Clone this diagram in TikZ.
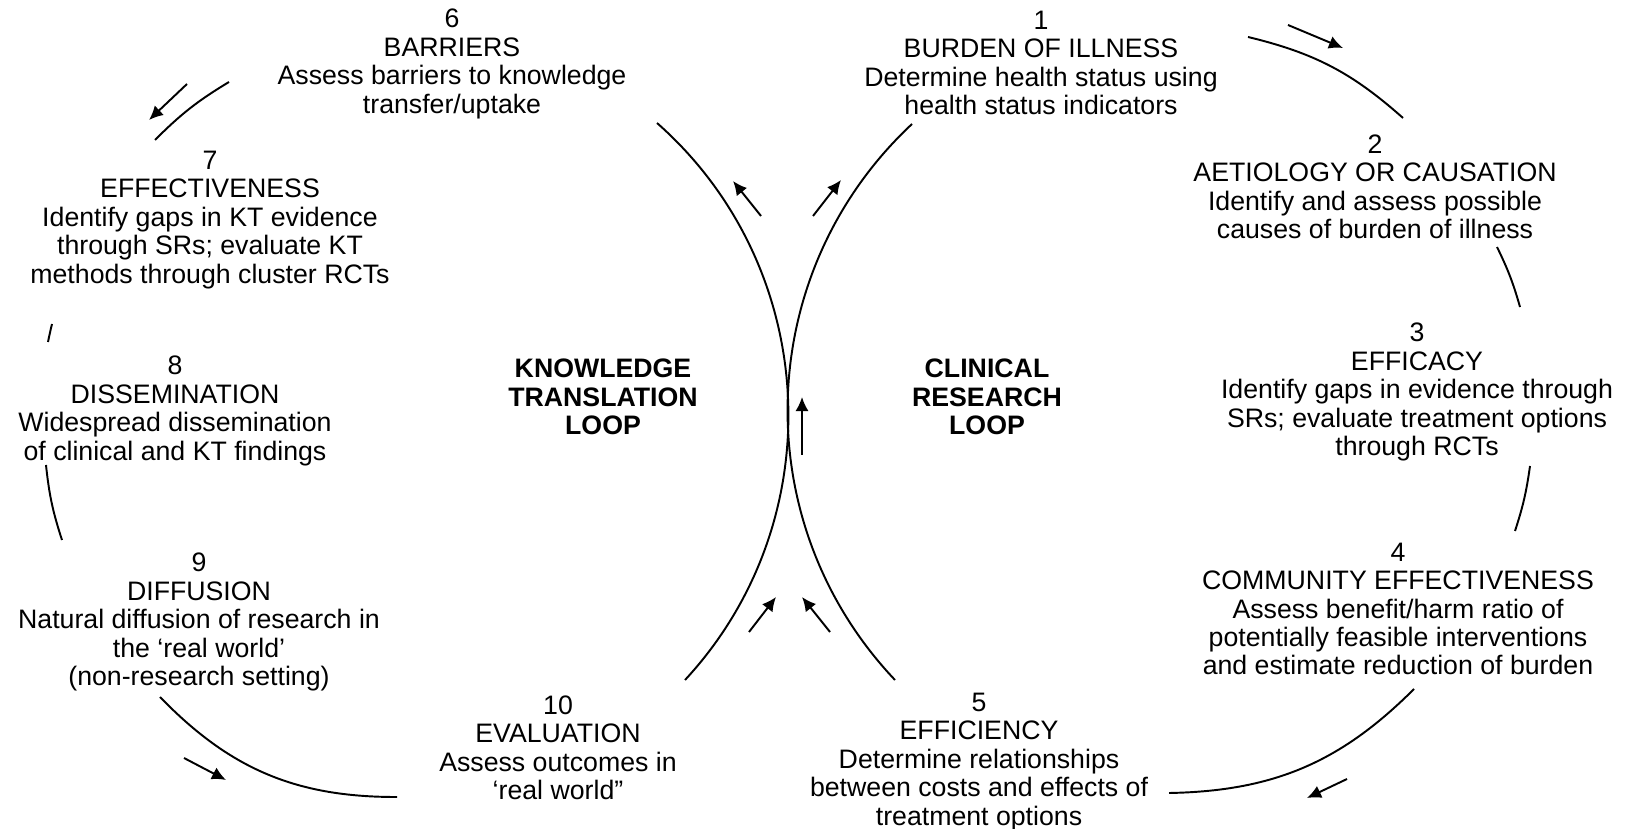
\documentclass[tikz,border=0pt]{standalone}
\usepackage{fontspec}
\setmainfont{Liberation Sans}
\usetikzlibrary{arrows.meta}
\newcommand{\loopArc}[4]{%%
  \coordinate (#1Start) at (#2);
  \coordinate (#1End) at (#3);
  \draw[arcStyle] (#1Start) to[#4] (#1End);
}
\newcommand{\flowArrow}[3]{%%
  \coordinate (#1Tail) at (#2);
  \coordinate (#1Head) at (#3);
  \draw[arrowStyle] (#1Tail) -- (#1Head);
}

\begin{document}
\begin{tikzpicture}[%%
  x=0.02cm,y=0.02cm,%%
  stageStyle/.style={align=center,inner sep=0pt,font=\fontsize{15.2}{16.2}\selectfont},%%
  loopStyle/.style={align=center,inner sep=0pt,font=\fontsize{15.2}{16.2}\selectfont\bfseries},%%
  arcStyle/.style={line width=1.1pt},%%
  arrowStyle/.style={line width=1.1pt,-{Latex[length=8pt,width=7.5pt]}}
]
\useasboundingbox (0,0) rectangle (1625,828);
%%
%% The stages of the clinical research loop.
\node[stageStyle] (burden) at (1041,765) {1\\BURDEN OF ILLNESS\\Determine health status using\\health status indicators};
\node[stageStyle] (aetiology) at (1375,641) {2\\AETIOLOGY OR CAUSATION\\Identify and assess possible\\causes of burden of illness};
\node[stageStyle] (efficacy) at (1417,436) {3\\EFFICACY\\Identify gaps in evidence through\\SRs; evaluate treatment options\\through RCTs};
\node[stageStyle] (community) at (1398,219) {4\\COMMUNITY EFFECTIVENESS\\Assess benefit/harm ratio of\\potentially feasible interventions\\and estimate reduction of burden};
\node[stageStyle] (efficiency) at (979,66) {5\\EFFICIENCY\\Determine relationships\\between costs and effects of\\treatment options};
%% The stages of the knowledge translation loop.
\node[stageStyle] (barriers) at (452,764) {6\\BARRIERS\\Assess barriers to knowledge\\transfer/uptake};
\node[stageStyle] (effective) at (210,608) {7\\EFFECTIVENESS\\Identify gaps in KT evidence\\through SRs; evaluate KT\\methods through cluster RCTs};
\node[stageStyle] (dissemination) at (175,417) {8\\DISSEMINATION\\Widespread dissemination\\of clinical and KT findings};
\node[stageStyle] (diffusion) at (199,206) {9\\DIFFUSION\\Natural diffusion of research in\\the `real world'\\(non-research setting)};
\node[stageStyle] (evaluation) at (558,80) {10\\EVALUATION\\Assess outcomes in\\`real world''};
%% The names of the loops.
\node[loopStyle] (ktLoop) at (603,431) {KNOWLEDGE\\TRANSLATION\\LOOP};
\node[loopStyle] (crLoop) at (987,431) {CLINICAL\\RESEARCH\\LOOP};
%%
%% The two loops touch in the middle.
\coordinate (ktTop) at (657,705);
\coordinate (ktBottom) at (685,148);
\coordinate (crTop) at (912,704);
\coordinate (crBottom) at (895,148);
\draw[arcStyle] (ktTop) to[bend left=45.7] (ktBottom);
\draw[arcStyle] (crTop) to[bend right=45.2] (crBottom);
%% Outer arcs of the knowledge translation loop.
\loopArc{barrEff}{229,746}{155,688}{bend right=7}
\loopArc{effDiss}{52,504}{48,486}{bend right=1}
\loopArc{dissDiff}{46,363}{62,288}{bend right=6}
\loopArc{diffEval}{160,131}{397,31}{bend right=23}
%% Outer arcs of the clinical research loop.
\loopArc{burdAet}{1248,791}{1403,710}{bend left=14}
\loopArc{aetEff}{1497,581}{1520,521}{bend left=5}
\loopArc{effComm}{1530,362}{1515,297}{bend left=5}
\loopArc{commEff}{1414,139}{1169,35}{bend left=22}
%%
%% Direction of travel round the loops.
\flowArrow{barrEff}{187,744}{149,708}
\flowArrow{burdAet}{1288,803}{1343,780}
\flowArrow{commEff}{1347,49}{1307,30}
\flowArrow{diffEval}{184,70}{226,48}
\flowArrow{ktUp}{761,612}{733,647}
\flowArrow{crUp}{813,612}{841,648}
\flowArrow{middle}{802,373}{802,431}
\flowArrow{evalIn}{749,196}{776,231}
\flowArrow{effIn}{830,196}{802,231}
\end{tikzpicture}
\end{document}
